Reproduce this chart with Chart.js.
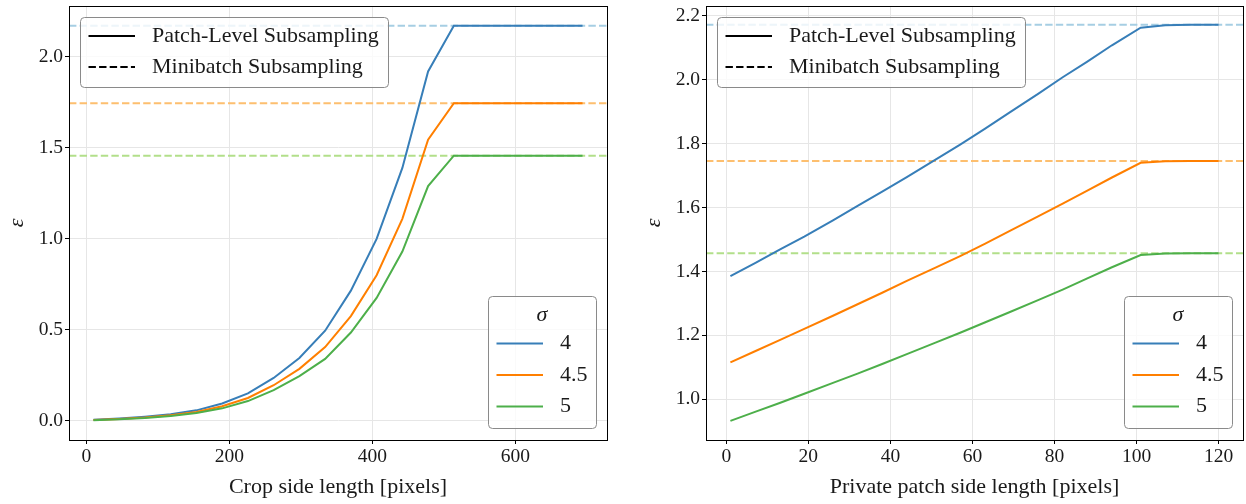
<!DOCTYPE html>
<html>
<head>
<meta charset="utf-8">
<script src="https://cdn.jsdelivr.net/npm/chart.js@4"></script>
<style>
  html, body { margin: 0; padding: 0; background: #fff; }
  #wrap { position: relative; width: 1246px; height: 504px; }
  canvas { position: absolute; top: 0; }
</style>
</head>
<body>
<div id="wrap">
  <canvas id="cropChart" width="623" height="504" style="left:0"></canvas>
  <canvas id="patchChart" width="623" height="504" style="left:623px"></canvas>
</div>
<script>
// noise multipliers and their colours
const sigmas = ['4', '4.5', '5'];
const lineColors = ['#377eb8', '#ff7f00', '#4daf4a'];
const refColors = ['#a6cee3', '#fdbf6f', '#b2df8a'];
const styleLabels = ['Patch-Level Subsampling', 'Minibatch Subsampling'];

// epsilon with plain minibatch subsampling, one per sigma
const minibatchEps = [2.172, 1.746, 1.457];

// left panel: crop side length
const cropSizes = [10, 46, 82, 118, 154, 190, 226, 262, 298, 334, 370, 406, 442, 478, 514, 550, 586, 622, 658, 694];
const cropEpsSigma4 = [0.005, 0.012, 0.022, 0.035, 0.057, 0.095, 0.150, 0.235, 0.345, 0.495, 0.715, 1.00, 1.39, 1.92, 2.172, 2.172, 2.172, 2.172, 2.172, 2.172];
const cropEpsSigma45 = [0.004, 0.010, 0.018, 0.030, 0.048, 0.080, 0.125, 0.195, 0.285, 0.405, 0.575, 0.80, 1.11, 1.545, 1.746, 1.746, 1.746, 1.746, 1.746, 1.746];
const cropEpsSigma5 = [0.003, 0.008, 0.015, 0.026, 0.042, 0.068, 0.108, 0.168, 0.245, 0.340, 0.485, 0.675, 0.93, 1.29, 1.457, 1.457, 1.457, 1.457, 1.457, 1.457];
const cropTicks = [0, 200, 400, 600];
const cropEpsTicks = [0, 0.5, 1.0, 1.5, 2.0];

// right panel: private patch side length
const patchSizes = [1, 7, 13, 19, 26, 32, 38, 44, 51, 57, 63, 69, 76, 82, 88, 94, 101, 107, 113, 120];
const patchEpsSigma4 = [1.385, 1.426, 1.468, 1.509, 1.560, 1.605, 1.650, 1.695, 1.750, 1.797, 1.846, 1.897, 1.956, 2.008, 2.057, 2.108, 2.163, 2.171, 2.172, 2.172];
const patchEpsSigma45 = [1.115, 1.150, 1.185, 1.220, 1.261, 1.297, 1.333, 1.370, 1.412, 1.448, 1.486, 1.526, 1.572, 1.612, 1.653, 1.694, 1.740, 1.745, 1.746, 1.746];
const patchEpsSigma5 = [0.932, 0.960, 0.988, 1.017, 1.051, 1.080, 1.110, 1.141, 1.177, 1.208, 1.240, 1.272, 1.310, 1.343, 1.378, 1.413, 1.451, 1.456, 1.457, 1.457];
const patchTicks = [0, 20, 40, 60, 80, 100, 120];
const patchEpsTicks = [1.0, 1.2, 1.4, 1.6, 1.8, 2.0, 2.2];

const FONT = "'Liberation Serif', 'DejaVu Serif', serif";
const TEXT = '#1a1a1a';
Chart.defaults.font.family = FONT;
Chart.defaults.color = TEXT;

// full box around the plot area
const framePlugin = {
  id: 'frame',
  afterDraw(chart) {
    const {ctx, chartArea: a} = chart;
    ctx.save();
    ctx.strokeStyle = '#000';
    ctx.lineWidth = 1;
    ctx.strokeRect(Math.round(a.left) + 0.5, Math.round(a.top) + 0.5,
      Math.round(a.right - a.left), Math.round(a.bottom - a.top));
    ctx.restore();
  }
};

function legendBox(ctx, x, y, w, h) {
  ctx.beginPath();
  ctx.roundRect(x + 0.5, y + 0.5, w, h, 4);
  ctx.fillStyle = 'rgba(255,255,255,0.8)';
  ctx.fill();
  ctx.strokeStyle = '#8a8a8a';
  ctx.lineWidth = 1;
  ctx.stroke();
}

function legendLine(ctx, x, y, color, dash) {
  ctx.beginPath();
  ctx.setLineDash(dash || []);
  ctx.strokeStyle = color;
  ctx.lineWidth = 2;
  ctx.moveTo(x, y);
  ctx.lineTo(x + 46.5, y);
  ctx.stroke();
  ctx.setLineDash([]);
}

// two legends: line style (top left) and sigma (bottom right)
const legendsPlugin = {
  id: 'legends',
  afterDatasetsDraw(chart) {
    const {ctx, chartArea: a} = chart;
    ctx.save();
    ctx.textBaseline = 'middle';
    ctx.textAlign = 'left';
    ctx.font = '22px ' + FONT;

    const sx = Math.round(a.left + 11), sy = Math.round(a.top + 11);
    legendBox(ctx, sx, sy, 308, 70);
    styleLabels.forEach((label, i) => {
      const ry = sy + 19 + i * 31;
      legendLine(ctx, sx + 8.5, ry, '#000', i === 1 ? [7.4, 3.2] : null);
      ctx.fillStyle = TEXT;
      ctx.fillText(label, sx + 72, ry);
    });

    const bw = 108, bh = 132;
    const bx = Math.round(a.right - 11 - bw), by = Math.round(a.bottom - 12 - bh);
    legendBox(ctx, bx, by, bw, bh);
    ctx.textAlign = 'center';
    ctx.font = 'italic 22px ' + FONT;
    ctx.fillStyle = TEXT;
    ctx.fillText('σ', bx + 54, by + 19);
    ctx.textAlign = 'left';
    ctx.font = '22px ' + FONT;
    chart.data.datasets.filter(d => d.sigma !== undefined).forEach((d, i) => {
      const ry = by + 47.5 + i * 31.5;
      legendLine(ctx, bx + 8.5, ry, d.borderColor);
      ctx.fillStyle = TEXT;
      ctx.fillText(d.sigma, bx + 72, ry);
    });
    ctx.restore();
  }
};

function makeChart(id, cfg) {
  const datasets = [];
  cfg.series.forEach((vals, i) => {
    datasets.push({
      sigma: sigmas[i],
      label: 'sigma ' + sigmas[i],
      data: cfg.x.map((x, j) => ({x: x, y: vals[j]})),
      borderColor: lineColors[i],
      borderWidth: 2,
      order: 2 - i
    });
  });
  minibatchEps.forEach((v, i) => {
    datasets.push({
      label: 'minibatch ' + sigmas[i],
      data: [{x: cfg.xRange[0], y: v}, {x: cfg.xRange[1], y: v}],
      borderColor: refColors[i],
      borderWidth: 2,
      borderDash: [7.4, 3.2],
      order: 3 + i
    });
  });

  const axisTitle = (text, style) => ({
    display: true, text: text, color: TEXT,
    font: {size: 22, style: style || 'normal'},
    padding: {top: 4, bottom: 4}
  });

  return new Chart(document.getElementById(id), {
    type: 'line',
    data: {datasets: datasets},
    options: {
      responsive: false,
      animation: false,
      layout: {padding: cfg.padding},
      elements: {point: {radius: 0}, line: {tension: 0}},
      plugins: {legend: {display: false}, tooltip: {enabled: false}},
      scales: {
        x: {
          type: 'linear',
          min: cfg.xRange[0], max: cfg.xRange[1],
          afterBuildTicks: s => { s.ticks = cfg.xTicks.map(v => ({value: v})); },
          afterFit: s => { s.height = 64; s.paddingLeft = 0; s.paddingRight = 0; },
          ticks: {font: {size: 19.5}, color: TEXT, maxRotation: 0, padding: 1, callback: v => String(v)},
          grid: {color: '#e6e6e6', tickColor: '#000', tickLength: 4},
          border: {display: true, color: '#000', width: 1},
          title: axisTitle(cfg.xTitle)
        },
        y: {
          type: 'linear',
          min: cfg.yRange[0], max: cfg.yRange[1],
          afterBuildTicks: s => { s.ticks = cfg.yTicks.map(v => ({value: v})); },
          afterFit: s => { s.width = 69; s.paddingTop = 0; s.paddingBottom = 0; },
          ticks: {font: {size: 19.5}, color: TEXT, padding: 2, callback: v => v.toFixed(1)},
          grid: {color: '#e6e6e6', tickColor: '#000', tickLength: 4},
          border: {display: true, color: '#000', width: 1},
          title: axisTitle('ε', 'italic')
        }
      }
    },
    plugins: [legendsPlugin, framePlugin]
  });
}

makeChart('cropChart', {
  x: cropSizes,
  series: [cropEpsSigma4, cropEpsSigma45, cropEpsSigma5],
  xRange: [-24.2, 728.2],
  yRange: [-0.106, 2.28],
  xTicks: cropTicks,
  yTicks: cropEpsTicks,
  xTitle: 'Crop side length [pixels]',
  padding: {left: 0, right: 16, top: 6, bottom: 0}
});

makeChart('patchChart', {
  x: patchSizes,
  series: [patchEpsSigma4, patchEpsSigma45, patchEpsSigma5],
  xRange: [-4.95, 125.95],
  yRange: [0.872, 2.231],
  xTicks: patchTicks,
  yTicks: patchEpsTicks,
  xTitle: 'Private patch side length [pixels]',
  padding: {left: 14, right: 3, top: 6, bottom: 0}
});
</script>
</body>
</html>
